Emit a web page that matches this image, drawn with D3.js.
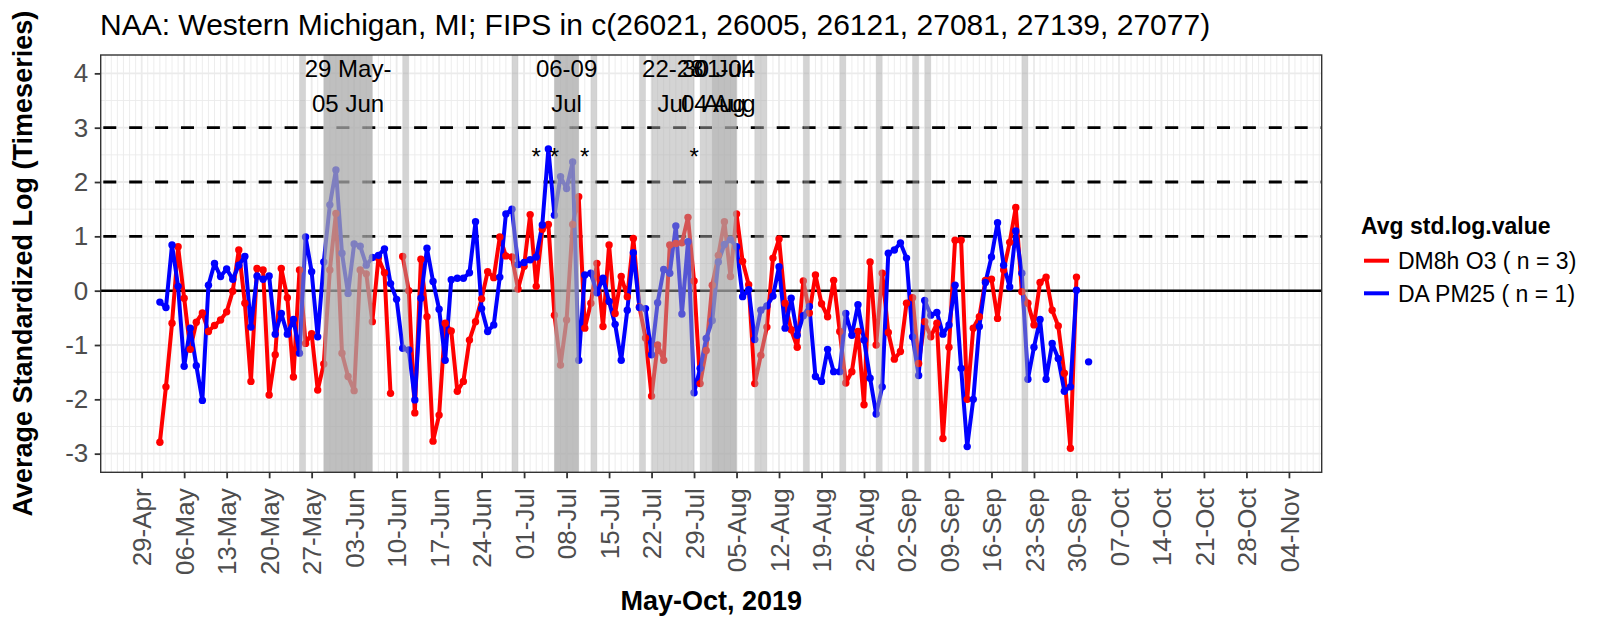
<!DOCTYPE html>
<html>
<head>
<meta charset="utf-8">
<script src="https://cdn.jsdelivr.net/npm/d3@7"></script>
<style>
body { margin: 0; background: #fff; }
svg { display: block; font-family: "Liberation Sans", Arial, sans-serif; }
</style>
</head>
<body>
<div id="chart"></div>
<script>
// daily values, first entry is startDate, null = no data
var startDate = "2019-05-02";

var o3Values = [
  -2.79, -1.77, -0.60, 0.81, -0.14, -1.08, -0.58, -0.41, -0.75, -0.64,   // 02 May
  -0.54, -0.39, -0.01, 0.75, -0.23, -1.67, 0.41, 0.38, -1.92, -1.18,     // 12 May
  0.41, -0.13, -1.59, 0.38, -0.97, -0.79, -1.83, -1.35, 0.38, 1.42,      // 22 May
  -1.15, -1.58, -1.84, 0.38, 0.31, -0.57, 0.60, 0.33, -1.89, null,       // 01 Jun
  0.63, 0.00, -2.25, 0.58, -0.48, -2.77, -2.29, -0.60, -0.74, -1.85,     // 11 Jun
  -1.67, -0.91, -0.57, -0.15, 0.35, 0.24, 0.99, 0.64, 0.62, 0.03,        // 21 Jun
  0.45, 1.40, 0.08, 1.13, 1.22, -0.45, -1.37, -0.54, 1.22, 1.73,         // 01 Jul
  -0.69, -0.23, 0.50, -0.66, 0.84, -0.42, 0.26, -0.11, 0.96, -0.30,      // 11 Jul
  -0.87, -1.94, -1.00, -1.28, 0.84, 0.87, 0.88, 1.35, 0.18, -1.71,       // 21 Jul
  -1.10, 0.10, 0.65, 1.27, 0.26, 1.41, 0.54, 0.11, -1.71, -1.19,         // 31 Jul
  -0.67, 0.60, 0.95, -0.23, -0.72, -1.04, 0.18, -0.41, 0.29, -0.24,      // 10 Aug
  -0.48, 0.19, -0.75, -1.70, -1.49, -0.75, -2.10, 0.53, -1.00, 0.32,     // 20 Aug
  -0.77, -1.26, -1.12, -0.23, -0.13, -1.34, -0.57, -0.85, -0.60, -2.72,  // 30 Aug
  -1.04, 0.93, 0.93, -2.00, -0.69, -0.48, 0.19, 0.21, -0.51, 0.38,       // 09 Sep
  0.89, 1.53, -0.02, -0.23, -0.63, 0.15, 0.25, -0.36, -0.65, -1.52,      // 19 Sep
  -2.90, 0.25, null, null                                                // 29 Sep
];

var pm25Values = [
  -0.21, -0.31, 0.84, 0.08, -1.39, -0.69, -1.38, -2.02, 0.10, 0.50,
  0.26, 0.40, 0.21, 0.47, 0.63, -0.67, 0.27, 0.21, 0.27, -0.80,
  -0.42, -0.80, -0.53, -1.15, 0.99, 0.35, -0.85, 0.53, 1.58, 2.22,
  0.69, -0.05, 0.86, 0.82, 0.47, 0.61, 0.65, 0.77, 0.13, -0.16,
  -1.06, -1.09, -2.01, -0.14, 0.78, 0.17, -0.34, -1.28, 0.20, 0.23,
  0.23, 0.33, 1.27, -0.33, -0.75, -0.63, 0.25, 1.41, 1.50, 0.48,
  0.52, 0.57, 0.62, 1.21, 2.61, 1.39, 2.10, 1.88, 2.37, -1.28,
  0.29, 0.32, -0.04, 0.23, -0.20, -0.62, -1.28, -0.36, 0.70, -0.31,
  -0.33, -1.18, -0.22, 0.39, 0.32, 1.19, -0.43, 0.90, -1.88, -1.43,
  -0.88, -0.55, 0.53, 0.85, 0.94, 0.81, -0.11, 0.02, -0.90, -0.36,
  -0.28, -0.10, 0.44, -0.69, -0.14, -0.82, -0.46, -0.29, -1.58, -1.67,
  -1.08, -1.49, -1.49, -0.42, -0.82, -0.26, -0.91, -1.61, -2.27, -1.77,
  0.69, 0.75, 0.88, 0.60, -0.85, -1.56, -0.18, -0.45, -0.40, -0.80,
  -0.63, 0.10, -1.43, -2.87, -2.00, -0.66, 0.15, 0.62, 1.25, 0.47,
  0.07, 1.10, 0.32, -1.63, -1.04, -0.53, -1.63, -0.97, -1.25, -1.85,
  -1.77, 0.01, null, -1.31
];

var seriesNames = ["DM8h O3 ( n = 3)", "DA PM25 ( n = 1)"];
var seriesColours = ["#ff0000", "#0000ff"];

// single flagged days (grey stripes)
var flagDays = [
  "2019-05-25", "2019-05-29", "2019-05-30", "2019-05-31", "2019-06-01", "2019-06-02",
  "2019-06-03", "2019-06-04", "2019-06-05", "2019-06-11", "2019-06-29",
  "2019-07-06", "2019-07-07", "2019-07-08", "2019-07-09", "2019-07-12", "2019-07-20",
  "2019-08-08", "2019-08-09", "2019-08-16", "2019-08-22", "2019-08-28",
  "2019-09-03", "2019-09-05", "2019-09-21"
];

// labelled events, start and last day inclusive
var eventStarts = ["2019-05-29", "2019-07-06", "2019-07-22", "2019-07-30", "2019-08-01"];
var eventEnds   = ["2019-06-05", "2019-07-09", "2019-07-28", "2019-08-04", "2019-08-04"];
var eventLabels = [["29 May-", "05 Jun"], ["06-09", "Jul"], ["22-28", "Jul"], ["30 Jul-", "04 Aug"], ["01-04", "Aug"]];

var starDates = ["2019-07-03", "2019-07-06", "2019-07-11", "2019-07-29"];
var starLevel = 2.5;

var thresholds = [1, 2, 3];
var yTicks = [-3, -2, -1, 0, 1, 2, 3, 4];

var titleText = "NAA: Western Michigan, MI; FIPS in c(26021, 26005, 26121, 27081, 27139, 27077)";


var width = 1600, height = 640;
var panel = { left: 100.7, right: 1321.7, top: 55, bottom: 472.3 };
var grid_colour = "#ebebeb";
var band_fill = "#aaaaaa";
var band_opacity = 0.5;

var parse = d3.utcParse("%Y-%m-%d");
var day0 = parse(startDate);

var x = d3.scaleUtc()
    .domain([new Date(Date.UTC(2019, 3, 22, 6)), new Date(Date.UTC(2019, 10, 9, 9, 36))])
    .range([panel.left, panel.right]);

var y = d3.scaleLinear()
    .domain([-3.343, 4.338])
    .range([panel.bottom, panel.top]);

var svg = d3.select("#chart").append("svg")
    .attr("width", width)
    .attr("height", height);

svg.append("rect").attr("width", width).attr("height", height).attr("fill", "#fff");

function to_points(values) {
    return values.map(function(v, i) { return { date: d3.utcDay.offset(day0, i), v: v }; });
}
var series = [to_points(o3Values), to_points(pm25Values)];

// grid
var g_grid = svg.append("g");
var minorDays = d3.utcDay.range(x.domain()[0], x.domain()[1]);
var xTicks = d3.utcMonday.range(parse("2019-04-29"), parse("2019-11-05"));

g_grid.selectAll(".vminor")
    .data(minorDays).enter().append("line")
    .attr("x1", function(d) { return x(d); })
    .attr("x2", function(d) { return x(d); })
    .attr("y1", panel.top).attr("y2", panel.bottom)
    .attr("stroke", grid_colour).attr("stroke-width", 0.9);

g_grid.selectAll(".vmajor")
    .data(xTicks).enter().append("line")
    .attr("x1", function(d) { return x(d); })
    .attr("x2", function(d) { return x(d); })
    .attr("y1", panel.top).attr("y2", panel.bottom)
    .attr("stroke", grid_colour).attr("stroke-width", 1.8);

var yMinor = d3.range(-2.5, 4, 1);
g_grid.selectAll(".hminor")
    .data(yMinor).enter().append("line")
    .attr("x1", panel.left).attr("x2", panel.right)
    .attr("y1", function(d) { return y(d); })
    .attr("y2", function(d) { return y(d); })
    .attr("stroke", grid_colour).attr("stroke-width", 0.9);

g_grid.selectAll(".hmajor")
    .data(yTicks).enter().append("line")
    .attr("x1", panel.left).attr("x2", panel.right)
    .attr("y1", function(d) { return y(d); })
    .attr("y2", function(d) { return y(d); })
    .attr("stroke", grid_colour).attr("stroke-width", 1.8);

// reference lines
svg.selectAll(".thresh")
    .data(thresholds).enter().append("line")
    .attr("x1", panel.left + 2.6).attr("x2", panel.right)
    .attr("y1", function(d) { return y(d); })
    .attr("y2", function(d) { return y(d); })
    .attr("stroke", "#000").attr("stroke-width", 2.8)
    .attr("stroke-dasharray", "13,12.9");

svg.append("line")
    .attr("x1", panel.left).attr("x2", panel.right)
    .attr("y1", y(0)).attr("y2", y(0))
    .attr("stroke", "#000").attr("stroke-width", 2.6);

// series lines then points
var line_generator = d3.line()
    .defined(function(d) { return d.v !== null; })
    .x(function(d) { return x(d.date); })
    .y(function(d) { return y(d.v); });

series.forEach(function(s, i) {
    svg.append("path")
        .attr("d", line_generator(s))
        .attr("fill", "none")
        .attr("stroke", seriesColours[i])
        .attr("stroke-width", 4)
        .attr("stroke-linejoin", "round")
        .attr("stroke-linecap", "round");
});

series.forEach(function(s, i) {
    svg.append("g").selectAll("circle")
        .data(s.filter(function(d) { return d.v !== null; }))
        .enter().append("circle")
        .attr("cx", function(d) { return x(d.date); })
        .attr("cy", function(d) { return y(d.v); })
        .attr("r", 3.7)
        .attr("fill", seriesColours[i]);
});

// shaded days and events (drawn over the data, semi transparent)
svg.append("g").selectAll("rect")
    .data(flagDays).enter().append("rect")
    .attr("x", function(d) { return x(parse(d)); })
    .attr("width", function(d) { return x(d3.utcDay.offset(parse(d), 1)) - x(parse(d)); })
    .attr("y", panel.top).attr("height", panel.bottom - panel.top)
    .attr("fill", band_fill).attr("fill-opacity", band_opacity);

var events = eventStarts.map(function(s, i) {
    return { start: parse(s), end: d3.utcDay.offset(parse(eventEnds[i]), 1), label: eventLabels[i] };
});

svg.append("g").selectAll("rect")
    .data(events).enter().append("rect")
    .attr("x", function(d) { return x(d.start); })
    .attr("width", function(d) { return x(d.end) - x(d.start); })
    .attr("y", panel.top).attr("height", panel.bottom - panel.top)
    .attr("fill", band_fill).attr("fill-opacity", band_opacity);

var labels = svg.append("g").selectAll("text")
    .data(events).enter().append("text")
    .attr("x", function(d) { return (x(d.start) + x(d.end)) / 2; })
    .attr("y", y(4))
    .attr("text-anchor", "middle")
    .style("font-size", "24px")
    .attr("fill", "#000");

labels.selectAll("tspan")
    .data(function(d) { return d.label.map(function(t) { return { t: t, cx: (x(d.start) + x(d.end)) / 2 }; }); })
    .enter().append("tspan")
    .attr("x", function(d) { return d.cx; })
    .attr("dy", function(d, i) { return i === 0 ? "0.15em" : "1.47em"; })
    .text(function(d) { return d.t; });

svg.append("g").selectAll("text")
    .data(starDates).enter().append("text")
    .attr("x", function(d) { return x(parse(d)); })
    .attr("y", y(starLevel))
    .attr("dy", "0.44em")
    .attr("text-anchor", "middle")
    .style("font-size", "24px")
    .text("*");

// panel border
svg.append("rect")
    .attr("x", panel.left).attr("y", panel.top)
    .attr("width", panel.right - panel.left)
    .attr("height", panel.bottom - panel.top)
    .attr("fill", "none").attr("stroke", "#333").attr("stroke-width", 1.4);

// axes
var x_axis = svg.append("g")
    .attr("transform", "translate(0," + panel.bottom + ")")
    .call(d3.axisBottom(x).tickValues(xTicks).tickFormat(d3.utcFormat("%d-%b")).tickSize(6).tickSizeOuter(0));

x_axis.select(".domain").remove();
x_axis.selectAll("line").attr("stroke", "#333").attr("stroke-width", 1.8);
x_axis.selectAll("text")
    .attr("transform", "rotate(-90)")
    .attr("x", -16).attr("y", 0).attr("dy", "0.35em")
    .attr("text-anchor", "end")
    .attr("fill", "#4d4d4d")
    .style("font-size", "26px")
    .style("font-family", "'Liberation Sans', Arial, sans-serif");

var y_axis = svg.append("g")
    .attr("transform", "translate(" + panel.left + ",0)")
    .call(d3.axisLeft(y).tickValues(yTicks).tickFormat(function(d) { return String(d); }).tickSize(6).tickPadding(6.4).tickSizeOuter(0));

y_axis.select(".domain").remove();
y_axis.selectAll("line").attr("stroke", "#333").attr("stroke-width", 1.8);
y_axis.selectAll("text")
    .attr("fill", "#4d4d4d")
    .style("font-size", "26px")
    .style("font-family", "'Liberation Sans', Arial, sans-serif");

// titles
svg.append("text")
    .text(titleText)
    .attr("x", 100).attr("y", 35)
    .style("font-size", "30px");

svg.append("text")
    .text("May-Oct, 2019")
    .attr("x", (panel.left + panel.right) / 2).attr("y", 610)
    .attr("text-anchor", "middle")
    .style("font-size", "27px").style("font-weight", "bold");

svg.append("text")
    .text("Average Standardized Log (Timeseries)")
    .attr("transform", "translate(32," + (panel.top + panel.bottom) / 2 + ") rotate(-90)")
    .attr("text-anchor", "middle")
    .style("font-size", "27px").style("font-weight", "bold");

// legend
var legend = svg.append("g").attr("transform", "translate(1361,0)");

legend.append("text")
    .text("Avg std.log.value")
    .attr("x", 0).attr("y", 234)
    .style("font-size", "23px").style("font-weight", "bold");

var keys = legend.selectAll(".key")
    .data(seriesNames).enter().append("g")
    .attr("transform", function(d, i) { return "translate(0," + (260.7 + i * 32.6) + ")"; });

keys.append("line")
    .attr("x1", 3).attr("x2", 28)
    .attr("y1", 0).attr("y2", 0)
    .attr("stroke", function(d, i) { return seriesColours[i]; })
    .attr("stroke-width", 4);

keys.append("text")
    .text(function(d) { return d; })
    .attr("x", 37).attr("y", 8.3)
    .style("font-size", "23px");
</script>
</body>
</html>
